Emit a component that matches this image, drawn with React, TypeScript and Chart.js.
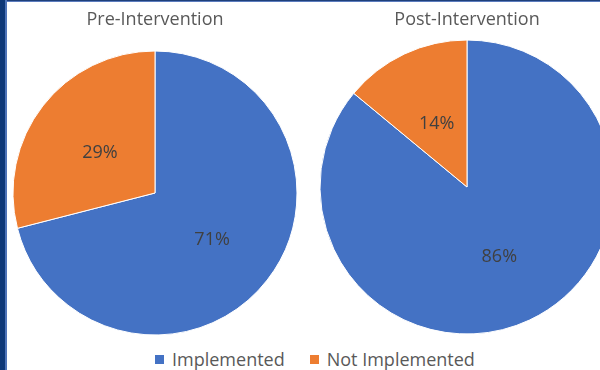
import React, { useEffect, useRef } from "react";
import { Chart, registerables } from "chart.js";

Chart.register(...registerables);

// Implementation status shares (%), before and after the intervention
const categories = ["Implemented", "Not Implemented"];
const preValues = [71, 29];
const postValues = [86, 14];
const chartTitles = ["Pre-Intervention", "Post-Intervention"];

const COLORS = ["#4472C4", "#ED7D31"];
const FONT = "'Open Sans', 'Liberation Sans', sans-serif";

// Writes each slice's percentage at the middle of the slice
const percentLabels = {
  id: "percentLabels",
  afterDatasetsDraw(chart: any) {
    const { ctx } = chart;
    const meta = chart.getDatasetMeta(0);
    const data = chart.data.datasets[0].data as number[];
    ctx.save();
    ctx.font = `18px ${FONT}`;
    ctx.fillStyle = "#404040";
    ctx.textAlign = "center";
    ctx.textBaseline = "middle";
    meta.data.forEach((arc: any, i: number) => {
      const p = arc.tooltipPosition();
      ctx.fillText(`${data[i]}%`, p.x + 1, p.y + 3);
    });
    ctx.restore();
  },
};

function makePie(
  canvas: HTMLCanvasElement,
  title: string,
  values: number[],
  radius: number,
  padTop: number,
  padBottom: number
) {
  return new Chart(canvas, {
    type: "pie",
    data: {
      labels: categories,
      datasets: [
        {
          data: values,
          backgroundColor: COLORS,
          borderColor: "#ffffff",
          borderWidth: 1,
        },
      ],
    },
    options: {
      responsive: false,
      animation: false,
      radius,
      layout: { padding: 0 },
      plugins: {
        legend: { display: false },
        tooltip: { enabled: false },
        title: {
          display: true,
          text: title,
          color: "#595959",
          font: { family: FONT, size: 18, weight: "normal" as any },
          padding: { top: padTop, bottom: padBottom },
        },
      },
    },
    plugins: [percentLabels],
  });
}

export default function App() {
  const preRef = useRef<HTMLCanvasElement>(null);
  const postRef = useRef<HTMLCanvasElement>(null);

  useEffect(() => {
    const a = makePie(preRef.current!, chartTitles[0], preValues, 142, 9, 20.4);
    const b = makePie(postRef.current!, chartTitles[1], postValues, 147, 9, 9.4);
    return () => {
      a.destroy();
      b.destroy();
    };
  }, []);

  return (
    <div
      style={{
        position: "fixed",
        left: 0,
        top: 0,
        width: 600,
        height: 370,
        overflow: "hidden",
        background: "#ffffff",
        fontFamily: FONT,
      }}
    >
      <div style={{ position: "absolute", left: 13, top: 0 }}>
        <canvas ref={preRef} width={284} height={335} style={{ display: "block" }} />
      </div>
      <div style={{ position: "absolute", left: 320, top: 0 }}>
        <canvas ref={postRef} width={294} height={334} style={{ display: "block" }} />
      </div>

      {/* legend */}
      <div
        style={{
          position: "absolute",
          left: 155,
          top: 348,
          display: "flex",
          alignItems: "center",
          fontSize: 18,
          color: "#595959",
          whiteSpace: "nowrap",
          lineHeight: "22px",
        }}
      >
        {categories.map((c, i) => (
          <div key={c} style={{ display: "flex", alignItems: "center", marginRight: i === 0 ? 25 : 0 }}>
            <span
              style={{
                display: "inline-block",
                width: 9,
                height: 9,
                background: COLORS[i],
                marginRight: 8,
              }}
            />
            <span>{c}</span>
          </div>
        ))}
      </div>

      {/* frame edges */}
      <div style={{ position: "absolute", left: 0, top: 0, width: 600, height: 1, background: "#1F3F7A" }} />
      <div style={{ position: "absolute", left: 0, top: 1, width: 600, height: 1, background: "#5B7CBE" }} />
      <div style={{ position: "absolute", left: 0, top: 0, width: 5, height: 370, background: "#0E3877" }} />
      <div style={{ position: "absolute", left: 5, top: 0, width: 2, height: 370, background: "#4E74B8" }} />
    </div>
  );
}
